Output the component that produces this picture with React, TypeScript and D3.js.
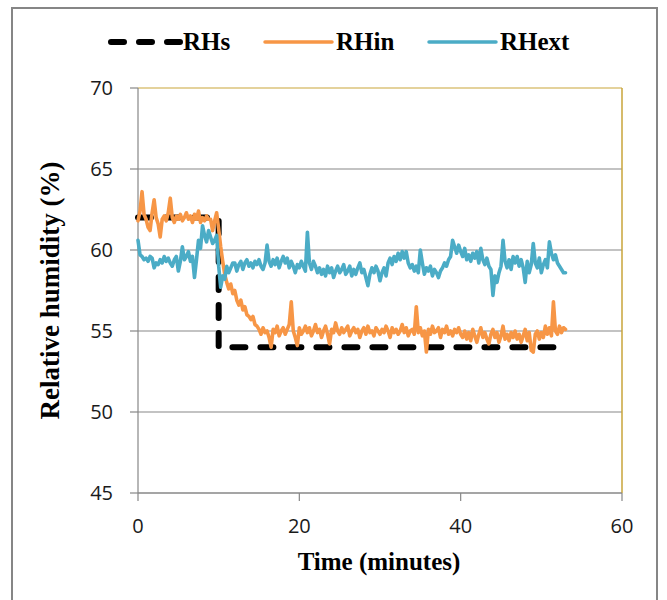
import React from "react";
import * as d3 from "d3";

// sampling of the logged series, minutes
const sampleStep = 0.25;

// set-point humidity (step change)
const rhsTime = [0, 10, 10, 52.5];
const rhsValues = [62, 62, 54, 54];

// inside humidity, one row per minute
const rhinValues = [
  61.8, 62.4, 63.6, 62.2,
  61.9, 61.4, 61.2, 62.3,
  63.1, 62.0, 61.6, 60.8,
  61.9, 62.1, 61.8, 62.3,
  63.2, 62.0, 61.7, 62.1,
  61.9, 62.2, 61.8, 62.0,
  62.3, 61.9, 62.1, 61.7,
  62.2, 61.9, 62.4, 61.7,
  62.0, 61.8, 62.1, 61.9,
  61.9, 61.2, 61.8, 62.3,
  61.3, 60.2, 59.3, 58.5,
  58.0, 57.6, 57.9, 57.3,
  57.5, 56.9, 56.6, 56.9,
  56.3, 56.5, 56.0, 55.9,
  55.7, 55.9, 55.4, 55.3,
  55.1, 54.8, 55.2, 54.9,
  55.0, 54.6, 54.0, 55.1,
  54.9, 55.3, 54.7, 55.0,
  55.2, 54.8, 55.1, 55.4,
  56.8, 55.0, 54.6, 54.1,
  55.2, 54.8, 55.0, 55.3,
  54.9, 55.2, 54.7, 55.0,
  55.4, 54.9, 55.1, 54.6,
  55.0, 55.3, 54.8, 54.2,
  55.1, 54.9, 55.5, 55.0,
  54.8, 55.2, 54.9, 55.1,
  55.3, 54.7, 55.0, 55.2,
  54.9, 55.1, 54.6, 55.0,
  55.2, 54.8, 55.3, 54.9,
  55.0, 54.7, 55.2, 55.0,
  54.8, 55.1, 54.9, 55.3,
  55.0, 54.6, 55.2, 54.9,
  55.1, 54.8, 55.0, 55.4,
  54.9, 55.2, 54.7, 55.0,
  55.1, 54.8, 56.5, 54.9,
  55.2, 54.7, 55.0, 53.7,
  55.1, 54.8, 55.3, 54.9,
  55.0, 55.2, 54.6, 55.1,
  54.9, 55.3, 54.8, 55.0,
  54.7, 55.1, 54.9, 55.2,
  54.8, 54.6, 55.0, 54.5,
  54.9, 54.4, 55.1, 54.7,
  54.3, 54.8, 55.2, 54.6,
  54.9, 54.5, 54.2, 54.8,
  55.1, 54.6, 54.9, 54.3,
  54.7, 55.3, 54.5, 54.8,
  54.4, 54.9, 54.6, 55.0,
  54.5, 54.8, 54.3, 54.7,
  55.1, 54.4, 54.9, 53.8,
  53.7, 54.8, 55.0, 54.5,
  54.9, 54.6, 55.3, 54.8,
  55.2, 54.7, 56.8, 55.0,
  54.8, 55.3, 54.9, 55.2,
  55.1,
];

// external humidity, one row per minute
const rhextValues = [
  60.6, 59.7, 59.6, 59.4,
  59.5, 59.3, 59.6, 59.5,
  58.9, 59.2, 59.1, 59.4,
  59.2, 59.6, 59.3, 59.5,
  59.2, 59.0, 59.4, 59.6,
  58.7, 59.3, 60.2, 59.4,
  59.6, 59.9, 59.3, 59.6,
  58.3, 59.4, 60.6, 60.1,
  61.5, 60.9, 60.5, 61.2,
  60.8, 60.4, 60.6, 60.9,
  59.0, 57.7, 58.4, 58.2,
  59.0, 58.6, 58.9, 59.2,
  59.2, 58.7, 59.1, 59.3,
  58.8, 59.2, 59.4, 59.0,
  59.2, 58.9, 59.3, 59.1,
  59.4, 59.0, 58.8, 59.2,
  60.3, 59.3, 59.0, 59.4,
  59.1, 59.5, 58.9, 59.3,
  59.6, 59.2, 59.5, 58.9,
  59.3, 59.0, 58.6, 59.1,
  58.9, 59.3, 59.0, 58.7,
  61.1, 59.2, 58.8, 59.3,
  59.0, 58.6, 58.9, 58.5,
  58.8, 58.4, 59.0, 58.6,
  58.9, 58.3, 58.7, 59.0,
  58.6, 58.8, 59.1, 58.5,
  58.7, 59.0, 58.4, 58.8,
  58.5, 58.9, 59.2, 58.6,
  58.8, 58.3, 57.8, 58.5,
  58.9, 58.6, 59.0, 58.7,
  58.1, 58.6, 58.9, 58.4,
  59.2, 59.5, 59.1, 59.6,
  59.3, 59.8, 59.4, 59.9,
  59.5, 59.9, 59.2, 58.9,
  59.1, 58.7, 59.0, 58.6,
  60.0, 59.2, 58.5, 58.9,
  58.7, 59.0, 58.4, 58.8,
  58.6, 58.3, 58.7, 58.9,
  59.2, 59.0, 59.4, 59.6,
  60.6, 60.2, 59.8, 60.3,
  59.9, 59.6, 60.1, 59.4,
  59.7, 59.3, 59.8, 59.5,
  59.9, 59.2, 60.1, 59.4,
  59.1, 59.5, 59.0, 58.8,
  57.2, 58.4, 58.0, 58.6,
  59.0, 60.6, 59.3, 58.9,
  59.4, 58.8, 59.6, 59.2,
  59.6, 59.0, 59.4, 58.9,
  58.0, 59.3, 58.6, 59.1,
  60.4, 59.2, 58.9, 59.5,
  58.6, 59.1, 59.4, 58.9,
  60.5, 59.8, 59.4, 59.7,
  59.2, 59.0, 58.8, 58.6,
  58.6,
];

const xTicks = [0, 20, 40, 60];
const yTicks = [45, 50, 55, 60, 65, 70];

const ORANGE = "#F79646";
const BLUE = "#4BACC6";
const GRID = "#878787";
const GOLD = "#C9A53A";

const App = () => {
  const width = 667;
  const height = 600;
  const margin = { top: 88, right: 45, bottom: 107, left: 138 };
  const innerW = width - margin.left - margin.right; // 484
  const innerH = height - margin.top - margin.bottom; // 405

  const x = d3.scaleLinear().domain([0, 60]).range([0, innerW]);
  const y = d3.scaleLinear().domain([45, 70]).range([innerH, 0]);

  const line = d3
    .line<[number, number]>()
    .x((d) => x(d[0]))
    .y((d) => y(d[1]));

  const rhs: [number, number][] = rhsTime.map((t, i) => [t, rhsValues[i]]);
  const rhin: [number, number][] = rhinValues.map((v, i) => [i * sampleStep, v]);
  const rhext: [number, number][] = rhextValues.map((v, i) => [i * sampleStep, v]);

  const tickFont = "'Open Sans', 'DejaVu Sans', sans-serif";
  const titleFont = "'Liberation Serif', 'Times New Roman', serif";

  return (
    <svg
      width={width}
      height={height}
      style={{ position: "absolute", left: 0, top: 0, background: "#fff" }}
    >
      {/* outer chart border */}
      <rect x={12} y={8} width={645} height={600} fill="#fff" stroke="#868686" strokeWidth={2} />

      {/* legend */}
      <g fontFamily={titleFont} fontWeight="bold" fontSize={25} fill="#000">
        <line x1={111} x2={180} y1={42} y2={42} stroke="#000" strokeWidth={6}
          strokeDasharray="13 15" strokeLinecap="round" />
        <text x={183} y={50}>RHs</text>
        <line x1={265} x2={332} y1={42} y2={42} stroke={ORANGE} strokeWidth={3.5} strokeLinecap="round" />
        <text x={336} y={50}>RHin</text>
        <line x1={429} x2={496} y1={42} y2={42} stroke={BLUE} strokeWidth={3.5} strokeLinecap="round" />
        <text x={500} y={50}>RHext</text>
      </g>

      <g transform={`translate(${margin.left},${margin.top})`}>
        {/* grid */}
        {yTicks.map((t) => (
          <line key={t} x1={0} x2={innerW} y1={y(t)} y2={y(t)}
            stroke={t === 70 ? GOLD : GRID} strokeWidth={1.2} />
        ))}
        <line x1={innerW} x2={innerW} y1={0} y2={innerH} stroke={GOLD} strokeWidth={1.5} />

        {/* axes */}
        <line x1={0} x2={0} y1={0} y2={innerH} stroke={GRID} strokeWidth={1.2} />
        <line x1={0} x2={innerW} y1={innerH} y2={innerH} stroke={GRID} strokeWidth={1.2} />
        {yTicks.map((t) => (
          <g key={t}>
            <line x1={-8} x2={0} y1={y(t)} y2={y(t)} stroke={GRID} strokeWidth={1.2} />
            <text x={-25} y={y(t)} dy="0.35em" textAnchor="end" fontFamily={tickFont}
              fontSize={20} fill="#1a1a1a">{t}</text>
          </g>
        ))}
        {xTicks.map((t) => (
          <g key={t}>
            <line x1={x(t)} x2={x(t)} y1={innerH} y2={innerH + 8} stroke={GRID} strokeWidth={1.2} />
            <text x={x(t)} y={innerH + 33} dy="0.35em" textAnchor="middle" fontFamily={tickFont}
              fontSize={20} fill="#1a1a1a">{t}</text>
          </g>
        ))}

        {/* series */}
        <path d={line(rhs) ?? ""} fill="none" stroke="#000" strokeWidth={6}
          strokeDasharray="13 15" strokeLinecap="round" strokeLinejoin="round" />
        <path d={line(rhin) ?? ""} fill="none" stroke={ORANGE} strokeWidth={3.6}
          strokeLinejoin="round" strokeLinecap="round" />
        <path d={line(rhext) ?? ""} fill="none" stroke={BLUE} strokeWidth={3.6}
          strokeLinejoin="round" strokeLinecap="round" />
      </g>

      {/* axis titles */}
      <text x={379} y={570} textAnchor="middle" fontFamily={titleFont} fontWeight="bold"
        fontSize={25} fill="#000">Time (minutes)</text>
      <text transform={`translate(59,${margin.top + innerH / 2}) rotate(-90)`} textAnchor="middle"
        fontFamily={titleFont} fontWeight="bold" fontSize={27} fill="#000">Relative humidity (%)</text>
    </svg>
  );
};

export default App;
